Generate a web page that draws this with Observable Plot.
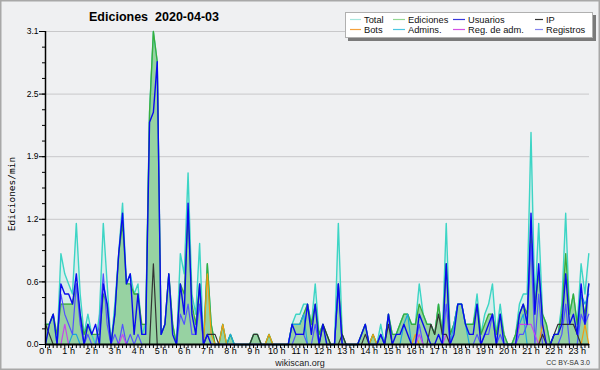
<!DOCTYPE html>
<html><head><meta charset="utf-8">
<script src="https://cdn.jsdelivr.net/npm/d3@7"></script>
<script src="https://cdn.jsdelivr.net/npm/@observablehq/plot@0.6"></script>
<style>
body{margin:0;background:#fff}
#wrap{position:relative;width:600px;height:370px;background:#eff0f2;overflow:hidden;font-family:"Liberation Sans",Arial,sans-serif}
#wrap svg{position:absolute;left:0;top:0}
</style></head><body><div id="wrap"></div>
<script>
// 10-minute bins, 0:00 .. 23:30 (edits per minute)
const hourTicks = d3.range(0, 24);
const hourLabels = hourTicks.map(h => h + " h");
const yTickValues = [0, 0.62, 1.24, 1.86, 2.48, 3.1];
const yTickLabels = ["0.0", "0.6", "1.2", "1.9", "2.5", "3.1"];
const legendNames = ["Total", "Ediciones", "Usuarios", "IP", "Bots", "Admins.", "Reg. de adm.", "Registros"];
const legendColors = ["#a6e6de", "#94d894", "#3838dc", "#333333", "#f5a23c", "#4cc6e2", "#d452e4", "#8484ee"];

const total = [
0.2,0.2,0.3,0.0,0.9,0.7,0.6,0.5,1.2,0.5,0.1,0.3,
0.1,0.0,0.3,1.2,0.6,0.0,0.4,0.9,1.4,0.6,0.7,0.5,
0.6,0.1,0.2,2.3,3.1,2.8,0.1,0.2,0.7,0.2,0.0,0.9,
0.7,1.7,0.5,0.3,1.0,0.0,0.8,0.2,0.0,0.0,0.2,0.0,
0.1,0,0,0,0,0,0.1,0.1,0,0,0.1,0,
0,0,0,0,0.2,0.3,0.3,0.4,0.4,0.2,0.6,0.1,
0.2,0.1,0,0,1.2,0.1,0,0,0,0,0.1,0.2,
0,0.1,0,0.2,0,0.3,0.1,0.1,0.2,0.3,0.3,0.2,
0.2,0.6,0.3,0.2,0.2,0.1,0.4,0.1,1.2,0.1,0.2,0.4,
0.4,0.2,0.2,0.2,0.5,0.1,0.3,0.4,0.6,0.1,0.4,0.1,
0,0,0.1,0.4,0.5,0.5,2.1,0.4,1.2,0.3,0.2,0,
0.1,0.1,0.4,1.3,0.3,0.5,0.2,0.8,0.5,0.9];

const ediciones = [
0.2,0.2,0.3,0.1,0.4,0.4,0.4,0.4,0.6,0.3,0.1,0.2,
0.1,0.1,0.1,0.5,0.4,0.0,0.3,0.9,1.2,0.6,0.6,0.5,
0.5,0.2,0.2,2.3,3.1,2.8,0.1,0.2,0.7,0.2,0.0,0.6,
0.5,1.3,0.4,0.2,0.6,0.0,0.8,0.2,0,0,0.2,0,
0.1,0,0,0,0,0,0.1,0.1,0,0,0.1,0,
0,0,0,0,0.2,0.2,0.2,0.3,0.4,0.2,0.4,0.1,
0.2,0.1,0,0,0.6,0.1,0,0,0,0,0.1,0.2,
0,0.1,0,0.1,0,0.3,0.1,0.1,0.2,0.3,0.3,0.2,
0.2,0.4,0.3,0.2,0.2,0.1,0.4,0.1,0.8,0.1,0.2,0.4,
0.4,0.2,0.2,0.2,0.4,0.1,0.2,0.3,0.3,0.1,0.3,0.1,
0,0,0.1,0.3,0.4,0.3,1.1,0.4,0.7,0.3,0.2,0,
0.1,0.1,0.3,0.9,0.3,0.5,0.2,0.5,0.3,0.6];

const usuarios = [
0.0,0.2,0.3,0.0,0.6,0.5,0.5,0.4,0.7,0.3,0.0,0.2,
0.1,0.2,0.0,0.6,0.4,0.0,0.3,0.9,1.3,0.6,0.7,0.1,
0.5,0.1,0.1,2.2,2.3,2.8,0.1,0.2,0.7,0.1,0.0,0.6,
0.3,1.4,0.3,0.1,0.6,0.0,0.1,0.0,0,0,0,0,
0,0,0,0,0,0,0,0,0,0,0,0,
0,0,0,0,0.2,0.1,0.1,0.1,0.4,0.1,0.4,0,
0.2,0,0,0,0.6,0,0,0,0,0,0.1,0.2,
0,0,0,0.1,0,0.3,0,0.1,0.1,0.2,0.1,0,
0,0.3,0.2,0.1,0,0,0.1,0,0.8,0,0.1,0.4,
0.4,0.2,0.1,0.1,0.4,0,0.1,0.2,0.3,0,0.3,0,
0,0,0,0.3,0.4,0.2,1.3,0.3,0.8,0.2,0,0,
0.1,0.1,0.2,0.7,0.2,0.3,0.1,0.6,0.2,0.6];

const ip = [
0.2,0.1,0,0,0,0,0,0,0,0,0,0,
0,0,0,0,0,0,0,0,0,0,0,0,
0,0,0,0,0.8,0,0,0,0,0,0,0,
0,0,0,0,0,0,0.1,0.1,0.1,0,0,0,
0,0,0,0,0,0,0.1,0.1,0,0,0,0,
0,0,0,0,0,0,0,0,0,0,0,0,
0.2,0.1,0,0,0,0.1,0,0,0,0,0,0.1,
0,0,0,0,0,0.2,0,0,0,0,0,0,
0,0,0,0,0.2,0.1,0.3,0.1,0.1,0,0,0,
0,0,0,0,0,0,0,0,0,0,0,0,
0,0,0,0,0,0,0,0,0,0.1,0,0,
0.1,0.2,0.2,0.2,0.2,0.2,0.1,0,0,0];

const bots = [
0,0,0,0,0,0,0,0,0,0,0,0,
0,0,0,0,0,0,0,0,0,0,0,0,
0,0,0,0,0,0,0,0,0,0,0,0,
0,0,0,0,0,0,0.7,0.1,0,0,0.2,0,
0,0,0,0,0,0,0,0,0,0,0.1,0,
0,0,0,0,0,0,0,0,0,0,0,0,
0,0,0,0,0,0,0,0,0,0,0,0,
0,0.1,0,0,0,0,0,0,0,0,0,0,
0.1,0,0,0,0,0,0,0,0,0,0,0,
0,0,0,0,0,0,0,0,0,0,0,0,
0,0,0,0,0,0,0,0,0,0.2,0,0,
0,0,0,0,0,0,0,0,0.2,0];

const admins = [
0,0,0,0,0,0,0,0.1,0.1,0,0,0,
0,0,0,0,0,0,0,0,0,0,0,0,
0,0,0,0,0,0,0,0,0,0,0,0,
0,0,0,0,0,0,0,0,0,0,0,0,
0.1,0,0,0,0,0,0,0,0,0,0,0,
0,0,0,0,0.2,0.2,0.2,0.3,0,0,0,0,
0,0,0,0,0,0,0,0,0,0,0,0,
0,0,0,0,0,0,0,0,0,0.2,0.3,0,
0,0,0,0,0,0,0,0,0,0,0.2,0.4,
0.4,0.2,0,0,0,0,0,0,0,0,0,0,
0,0,0,0.2,0.3,0,0,0,0,0,0,0,
0,0,0,0,0,0,0,0.5,0.4,0.5];

const regAdm = [
0,0,0,0,0,0.2,0,0,0,0,0,0,
0,0,0,0,0,0,0,0,0.1,0,0,0,
0,0,0,0,0,0,0,0,0,0,0,0,
0,0,0,0,0,0,0,0,0,0,0,0,
0,0,0,0,0,0,0,0,0,0,0,0,
0,0,0,0,0,0,0,0,0,0,0,0,
0,0,0,0,0,0,0,0,0,0,0,0,
0,0,0,0,0,0,0,0,0,0,0,0,
0,0.1,0,0,0,0,0,0,0.1,0,0,0,
0,0,0,0,0,0,0,0,0,0,0,0,
0,0,0,0.2,0.2,0.2,0.2,0.1,0,0,0,0,
0,0,0,0,0,0,0,0,0,0];

const registros = [
0,0,0,0,0.5,0.3,0.2,0.1,0.6,0.2,0,0.1,
0,0,0.2,0.7,0.2,0,0.1,0,0.2,0,0.1,0,
0.1,0,0,0,0,0,0,0,0,0,0,0.3,
0.2,0.4,0.1,0.1,0.4,0,0,0,0,0,0,0,
0,0,0,0,0,0,0,0,0,0,0,0,
0,0,0,0,0,0.1,0.1,0.1,0,0,0.2,0,
0,0,0,0,0.6,0,0,0,0,0,0,0,
0,0,0,0.1,0,0,0,0,0,0,0,0,
0,0.2,0,0,0,0,0,0,0.4,0,0,0,
0,0,0,0,0.1,0,0.1,0.1,0.3,0,0.1,0,
0,0,0,0.1,0.1,0.2,1.0,0,0.5,0,0,0,
0,0,0.1,0.4,0,0,0,0.3,0.2,0.3];

const data = total.map((v, i) => ({
  h: i / 6, total: v, ediciones: ediciones[i], usuarios: usuarios[i], ip: ip[i],
  bots: bots[i], admins: admins[i], regadm: regAdm[i], registros: registros[i]
}));

const minorX = d3.range(0, 23.5 + 1e-9, 1 / 6);
const minorY = d3.range(0, 3.1 + 1e-9, 0.155);

const line = (key, color, w) => Plot.lineY(data, {x: "h", y: key, stroke: color, strokeWidth: w});

const chart = Plot.plot({
  width: 600, height: 370,
  marginLeft: 45, marginRight: 11, marginTop: 31, marginBottom: 26,
  x: {domain: [0, 23.53]},
  y: {domain: [0, 3.1]},
  style: {background: "transparent", fontFamily: "Liberation Sans, Arial, sans-serif", color: "#000"},
  marks: [
    Plot.ruleY(yTickValues.slice(1), {stroke: "#c8c8ca", strokeWidth: 1}),
    Plot.areaY(data, {x: "h", y: "total", fill: "#3ed8c8", fillOpacity: 0.13}),
    Plot.areaY(data, {x: "h", y: "ediciones", fill: "#62bb66", fillOpacity: 0.55}),
    line("total", "#3dd5c5", 1.4),
    line("ediciones", "#3aad3a", 1.3),
    line("admins", "#1aa6e0", 1.2),
    line("registros", "#5252ff", 1.2),
    line("bots", "#f39c12", 1.2),
    line("regadm", "#c844ec", 1.2),
    line("ip", "#333333", 1.2),
    line("usuarios", "#0a0aee", 1.4),
    Plot.ruleX([0], {stroke: "#000", strokeWidth: 1.5}),
    Plot.ruleY([0], {stroke: "#000", strokeWidth: 2}),
    Plot.axisY(yTickValues, {tickSize: 6, tickPadding: 1, fontSize: 8.5, label: null,
      tickFormat: d => yTickLabels[yTickValues.indexOf(d)]}),
    Plot.axisY(minorY, {tickSize: 3, tickFormat: () => "", label: null}),
    Plot.axisX(minorX, {tickSize: 4, tickFormat: () => "", label: null}),
    Plot.axisX(hourTicks, {tickSize: 0, tickPadding: 3.5, fontSize: 9, label: null,
      tickFormat: d => hourLabels[hourTicks.indexOf(d)]})
  ]
});
const wrap = document.getElementById("wrap");
wrap.appendChild(chart);

// overlay: title, legend, captions, frame
const ov = d3.select(wrap).append("svg").attr("width", 600).attr("height", 370)
  .style("font-family", "Liberation Sans, Arial, sans-serif");
ov.append("rect").attr("x", 0.75).attr("y", 0.75).attr("width", 598.5).attr("height", 368.5)
  .attr("fill", "none").attr("stroke", "#a8a8a8").attr("stroke-width", 1.5);
ov.append("text").attr("x", 154).attr("y", 21).attr("text-anchor", "middle")
  .attr("font-size", 12.5).attr("font-weight", "bold")
  .style("white-space", "pre").text("Ediciones  2020-04-03");
ov.append("text").attr("transform", "translate(15,194) rotate(-90)").attr("text-anchor", "middle")
  .attr("font-family", "DejaVu Sans Mono, monospace").attr("font-size", 9.5).text("Ediciones/min");
ov.append("text").attr("x", 300).attr("y", 366).attr("text-anchor", "middle")
  .attr("font-size", 9).attr("fill", "#222").text("wikiscan.org");
ov.append("text").attr("x", 590).attr("y", 365).attr("text-anchor", "end")
  .attr("font-size", 7).attr("fill", "#333").text("CC BY-SA 3.0");

const lg = ov.append("g");
lg.append("rect").attr("x", 348).attr("y", 15).attr("width", 248).attr("height", 26).attr("fill", "#7a7a7a");
lg.append("rect").attr("x", 345.5).attr("y", 12.5).attr("width", 247).attr("height", 25)
  .attr("fill", "#fff").attr("stroke", "#b0b0b0");
const colX = [350, 393, 453, 535];
const colW = [11, 12, 12, 8];
legendNames.forEach((name, i) => {
  const c = i % 4, r = Math.floor(i / 4);
  const y = 19.5 + r * 10;
  lg.append("line").attr("x1", colX[c]).attr("x2", colX[c] + colW[c]).attr("y1", y).attr("y2", y)
    .attr("stroke", legendColors[i]).attr("stroke-width", 1.2);
  lg.append("text").attr("x", colX[c] + colW[c] + 3).attr("y", y + 3.5)
    .attr("font-size", 9.3).attr("fill", "#111").text(name);
});
</script></body></html>
